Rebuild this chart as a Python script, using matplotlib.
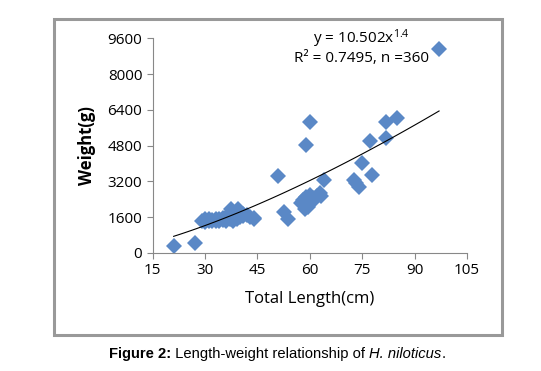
import matplotlib
matplotlib.use("Agg")
import matplotlib.pyplot as plt
from matplotlib.patches import Rectangle
import numpy as np

plt.rcParams['font.family'] = ['Open Sans', 'DejaVu Sans']
plt.rcParams['mathtext.default'] = 'regular'

# total length (cm) and weight (g)
length = [21, 27,
          29, 30, 30, 31, 31, 32, 32, 33, 33, 34, 34, 35, 35, 36, 36, 36,
          37, 37, 37.5, 38, 38, 38.5, 39, 39, 39.5, 40, 40, 41, 41, 42, 43, 44, 44,
          51, 52.7, 53.7,
          57.5, 58, 58.5, 59, 59, 59.4, 59.9, 60.5, 60.8, 61, 62, 62.8, 63.3,
          59, 60, 64,
          72.5, 73.3, 74.2, 75, 77.9, 77.1, 81.9, 81.9, 85, 97]
weight = [320, 430,
          1450, 1500, 1400, 1450, 1520, 1480, 1420, 1500, 1450, 1440, 1520, 1480, 1560, 1450, 1550, 1620,
          1500, 1650, 1960, 1450, 1700, 1800, 1500, 1650, 1960, 1600, 1850, 1750, 1650, 1700, 1600, 1500, 1560,
          3440, 1850, 1505,
          2250, 2350, 1950, 2520, 2150, 2070, 2600, 2300, 2370, 2450, 2550, 2670, 2550,
          4840, 5870, 3260,
          3250, 3140, 2960, 4020, 3490, 5020, 5130, 5870, 6040, 9120]

# power trendline  W = a * L^b
a = 10.502
b = 1.4

xticks = [15, 30, 45, 60, 75, 90, 105]
yticks = [0, 1600, 3200, 4800, 6400, 8000, 9600]

fig = plt.figure(figsize=(5.41, 3.71), dpi=100)
fig.patches.append(Rectangle((53.5/541, 1-335/371), (501.5-53.5)/541, (335-18.5)/371,
                             transform=fig.transFigure, fill=False,
                             edgecolor='#999999', linewidth=2.2))

ax = fig.add_axes([152.7/541, 1-253/371, (467-152.7)/541, (253-38.3)/371])

ax.plot(length, weight, 'D', color='#5a88c6', markersize=8.5, markeredgewidth=0, zorder=2)

xl = np.linspace(min(length), max(length), 60)
ax.plot(xl, a*xl**b, color='black', linewidth=0.8, zorder=3)

ax.set_xlim(15, 105)
ax.set_ylim(0, 9600)
ax.set_xticks(xticks)
ax.set_yticks(yticks)
ax.tick_params(labelsize=11, colors='#888888', labelcolor='black', length=4, width=0.8)
for s in ['top', 'right']:
    ax.spines[s].set_visible(False)
for s in ['left', 'bottom']:
    ax.spines[s].set_color('#888888')
    ax.spines[s].set_linewidth(0.8)

ax.set_xlabel('Total Length(cm)', fontsize=12, labelpad=9)
ax.set_ylabel('Weight(g)', fontsize=12, fontweight='bold', labelpad=8)

ax.text(0.665, 1.0, 'y = 10.502x$^{1.4}$', transform=ax.transAxes, ha='center',
        va='center', fontsize=11)
ax.text(0.665, 0.905, 'R² = 0.7495, n =360', transform=ax.transAxes, ha='center',
        va='center', fontsize=11)

# caption, built from pieces
renderer = fig.canvas.get_renderer()
parts = [('Figure 2:', 'bold', 'normal'), (' Length-weight relationship of ', 'normal', 'normal'),
         ('H. niloticus', 'normal', 'italic'), ('.', 'normal', 'normal')]
texts = []
for txt, w, st in parts:
    t = fig.text(0, 1-354/371, txt, fontsize=10.6, fontweight=w, style=st,
                 family='Liberation Sans', va='center', ha='left')
    texts.append(t)
widths = [t.get_window_extent(renderer).width for t in texts]
x0 = 277 - sum(widths)/2
for t, wd in zip(texts, widths):
    t.set_x(x0/541)
    x0 += wd

fig.savefig('out.png', dpi=100)
